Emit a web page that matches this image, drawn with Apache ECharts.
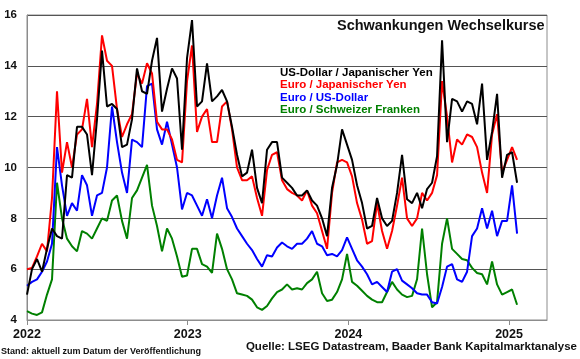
<!DOCTYPE html>
<html><head><meta charset="utf-8">
<script src="https://cdn.jsdelivr.net/npm/echarts@6/dist/echarts.min.js"></script>
<style>html,body{margin:0;padding:0;background:#fff}#c{width:580px;height:359px}</style>
</head><body><div id="c"></div><script>
// sampling: one reading about every 11 days, starting at the beginning of 2022
const startYear = 2022;
const stepYears = 0.03112;
const yearTicks = [2022, 2023, 2024, 2025];
const yTicks = [4, 6, 8, 10, 12, 14, 16];

const seriesNames = ['US-Dollar / Japanischer Yen', 'Euro / Japanischer Yen', 'Euro / US-Dollar', 'Euro / Schweizer Franken'];
const seriesColors = ['#000000', '#ff0000', '#0000ff', '#008000'];

const usdJpy = [5.0, 6.0, 6.4, 5.9, 6.8, 7.6, 7.3, 7.2, 9.7, 9.6,
 11.6, 11.6, 11.3, 9.7, 11.9, 14.6, 12.4, 12.5, 12.3, 10.8,
 10.9, 11.9, 13.9, 13.0, 12.9, 14.2, 15.1, 12.2, 13.1, 13.9,
 13.5, 10.7, 14.3, 15.8, 12.4, 12.6, 14.1, 12.6, 12.8, 13.05,
 12.6, 11.6, 10.5, 9.65, 9.8, 10.7, 9.2, 8.6, 10.7, 11.0,
 11.0, 9.6, 9.4, 9.2, 8.9, 8.9, 9.1, 8.7, 8.5, 8.0,
 7.3, 9.2, 10.1, 11.5, 10.9, 10.3, 9.3, 8.6, 7.6, 7.7,
 8.8, 8.0, 7.7, 7.9, 9.0, 10.5, 8.75, 8.6, 9.0, 8.4,
 9.15, 9.4, 10.45, 15.0, 11.0, 12.7, 12.6, 12.2, 12.6, 12.5,
 11.7, 13.3, 10.3, 11.4, 12.9, 9.6, 10.5, 10.6, 9.4];

const eurJpy = [6.0, 6.05, 6.5, 7.0, 6.7, 8.8, 13.0, 9.8, 11.0, 10.0,
 11.3, 11.5, 12.7, 10.8, 12.5, 15.2, 14.2, 14.0, 12.3, 11.2,
 11.7, 12.1, 13.7, 13.3, 14.1, 13.7, 11.8, 11.5, 11.5, 11.1,
 10.3, 10.2, 13.4, 14.8, 11.4, 12.0, 12.3, 11.0, 11.0, 12.4,
 12.6, 11.5, 10.0, 9.5, 9.5, 9.65, 8.8, 8.1, 9.9, 10.5,
 10.6, 9.5, 9.15, 9.0, 8.9, 8.7, 9.1, 8.5, 8.2, 7.5,
 6.8, 9.0, 10.2, 10.3, 10.2, 9.65, 8.6, 7.95, 7.0, 7.1,
 8.6, 7.5, 6.8, 7.5, 8.5, 9.6, 8.0, 7.7, 8.0, 9.0,
 8.7, 9.0, 9.7, 13.4, 12.0, 10.2, 11.1, 10.9, 11.3, 11.2,
 10.8, 9.8, 9.0, 11.3, 12.1, 9.8, 10.3, 10.8, 10.3];

const eurUsd = [5.35, 5.5, 5.6, 5.9, 6.3, 7.0, 10.8, 9.3, 8.1, 8.6,
 8.3, 9.7, 9.3, 8.1, 8.9, 9.0, 10.0, 12.4, 11.0, 9.8,
 9.0, 11.1, 11.0, 10.8, 13.2, 13.3, 11.5, 10.9, 11.8, 10.9,
 10.0, 8.35, 9.0, 8.9, 8.5, 8.1, 8.75, 8.0, 8.9, 9.6,
 8.4, 8.05, 7.6, 7.3, 7.0, 6.75, 6.4, 6.1, 6.55, 6.5,
 6.85, 7.05, 6.9, 6.8, 7.0, 7.0, 7.2, 7.5, 7.0, 6.9,
 6.55, 6.6, 6.5, 6.75, 7.25, 6.8, 6.35, 6.1, 5.8, 5.4,
 5.5, 5.3, 5.1, 5.9, 6.0, 5.55, 5.4, 5.25, 5.05, 5.0,
 5.0, 4.7, 4.65, 5.3, 6.1, 6.2, 5.6, 5.5, 5.9, 7.3,
 7.6, 8.4, 7.6, 8.3, 7.3, 7.9, 7.9, 9.3, 7.4];

const eurChf = [4.35, 4.25, 4.2, 4.3, 5.0, 5.6, 9.4, 8.0, 7.2, 6.9,
 6.7, 7.5, 7.4, 7.2, 7.6, 8.0, 7.9, 8.7, 8.9, 7.9,
 7.2, 8.8, 9.1, 9.6, 10.1, 8.5, 7.7, 6.7, 7.6, 7.2,
 6.5, 5.7, 5.75, 6.8, 6.8, 6.2, 6.1, 5.85, 7.4, 6.8,
 6.0, 5.6, 5.05, 5.0, 4.95, 4.8, 4.5, 4.4, 4.55, 4.85,
 5.1, 5.2, 5.4, 5.2, 5.25, 5.2, 5.45, 5.6, 5.9, 5.05,
 4.75, 4.8, 5.1, 5.6, 6.6, 5.5, 5.35, 5.15, 4.95, 4.8,
 4.7, 4.7, 5.1, 5.5, 5.2, 5.0, 4.9, 4.95, 5.6, 7.6,
 5.8, 4.5, 4.7, 7.0, 8.0, 6.8, 6.6, 6.4, 6.35, 6.05,
 5.85, 5.8, 5.4, 6.3, 5.4, 5.0, 5.1, 5.2, 4.6];

const dates = usdJpy.map((_, i) => startYear + i * stepYears);
const pairs = arr => arr.map((v, i) => [dates[i], v]);

const FONT = '"Liberation Sans", Arial, sans-serif';
const chart = echarts.init(document.getElementById('c'), null, {renderer: 'canvas'});
const valuesInOrder = [usdJpy, eurJpy, eurUsd, eurChf];
const drawOrder = [3, 2, 1, 0];

chart.setOption({
  animation: false,
  backgroundColor: '#ffffff',
  textStyle: {fontFamily: FONT},
  title: {
    text: 'Schwankungen Wechselkurse',
    left: 337, top: 18, padding: 0,
    textStyle: {fontFamily: FONT, fontSize: 14.5, fontWeight: 'bold', color: '#111'}
  },
  legend: {
    orient: 'vertical', left: 275, top: 67, padding: 0, itemGap: 0,
    itemWidth: 0, itemHeight: 0, selectedMode: false,
    data: seriesNames.map((n, i) => ({name: n, icon: 'none', textStyle: {color: seriesColors[i]}})),
    textStyle: {fontFamily: FONT, fontSize: 11.5, fontWeight: 'bold', lineHeight: 12.2}
  },
  grid: {left: 27, right: 33, top: 15, bottom: 39, show: true, borderColor: '#8c8c8c', borderWidth: 1},
  xAxis: {
    type: 'value', min: 2022, max: 2025.236,
    axisLine: {show: true, lineStyle: {color: '#8c8c8c', width: 1}},
    axisTick: {show: true, customValues: yearTicks, length: 5, lineStyle: {color: '#8c8c8c'}},
    axisLabel: {customValues: yearTicks, formatter: v => String(Math.round(v)), margin: 8,
      fontFamily: FONT, fontSize: 12.5, fontWeight: 'bold', color: '#111'},
    splitLine: {show: false}
  },
  yAxis: {
    type: 'value', min: 4, max: 16, interval: 2,
    axisLine: {show: true, lineStyle: {color: '#8c8c8c'}},
    axisTick: {show: false},
    axisLabel: {margin: 10, fontFamily: FONT, fontSize: 11.5, fontWeight: 'bold', color: '#111'},
    splitLine: {show: true, lineStyle: {color: '#555555', width: 1}}
  },
  graphic: [
    {type: 'text', left: 1, top: 347, style: {text: 'Stand: aktuell zum Datum der Veröffentlichung',
      font: 'bold 9px ' + FONT, fill: '#111'}},
    {type: 'text', right: 3, top: 341, style: {text: 'Quelle: LSEG Datastream, Baader Bank Kapitalmarktanalyse',
      font: 'bold 11.5px ' + FONT, fill: '#111'}}
  ],
  series: drawOrder.map(k => ({
    name: seriesNames[k], type: 'line', data: pairs(valuesInOrder[k]),
    showSymbol: false, symbol: 'none', smooth: false,
    lineStyle: {color: seriesColors[k], width: 2}, itemStyle: {color: seriesColors[k]},
    z: 2 + (3 - k)
  }))
});
</script></body></html>
